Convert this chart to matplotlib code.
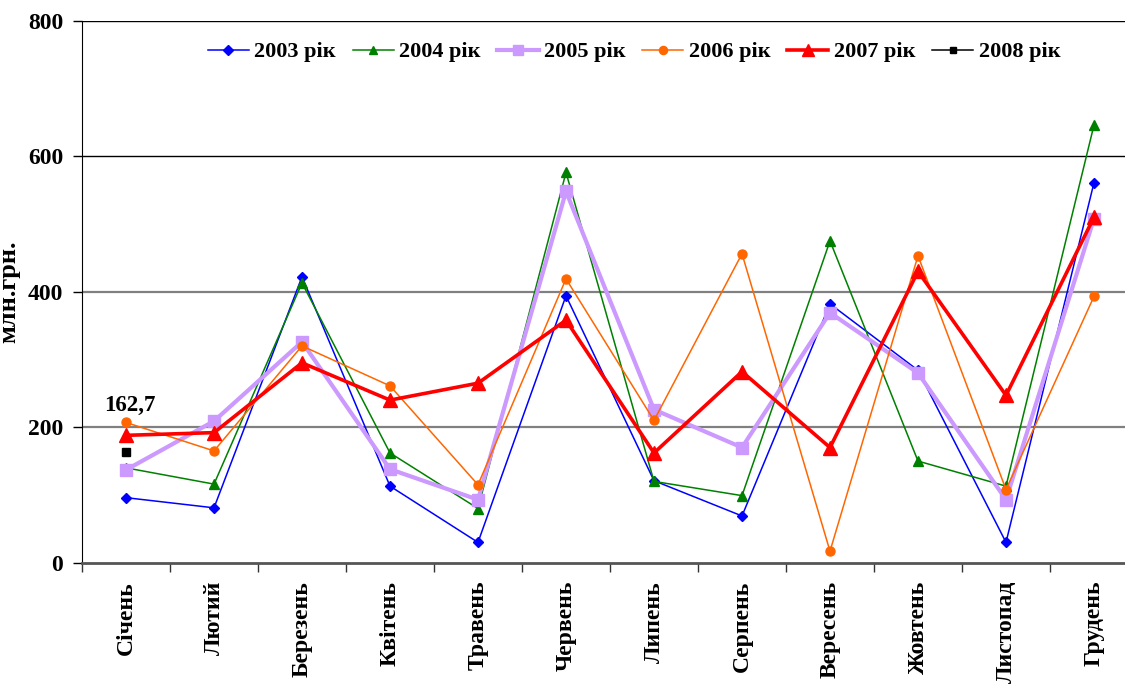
import numpy as np
import matplotlib.pyplot as plt

# monthly receipts, mln UAH
months = ["Січень", "Лютий", "Березень", "Квітень", "Травень", "Червень",
          "Липень", "Серпень", "Вересень", "Жовтень", "Листопад", "Грудень"]

y2003 = [96, 81, 422, 113, 30, 394, 121, 69, 382, 284, 30, 561]
y2004 = [140, 116, 413, 162, 80, 576, 120, 99, 475, 150, 113, 646]
y2005 = [137, 209, 326, 138, 93, 548, 226, 170, 369, 280, 93, 508]
y2006 = [207, 165, 320, 261, 115, 419, 210, 456, 17, 453, 108, 393]
y2007 = [188, 192, 295, 240, 265, 358, 162, 282, 170, 430, 247, 510]
y2008 = [162.7] + [np.nan] * 11

plt.rcParams["font.family"] = ["Liberation Serif", "DejaVu Serif"]
plt.rcParams["font.weight"] = "bold"

fig = plt.figure(figsize=(11.25, 6.86), dpi=100)
ax = fig.add_axes([82 / 1125, 123.3 / 686, 1056 / 1125, 542 / 686])

x = np.arange(len(months))
ax.plot(x, y2003, color="#0000FF", lw=1.1, marker="D", ms=5.5, label="2003 рік")
ax.plot(x, y2004, color="#008000", lw=1.1, marker="^", ms=7, label="2004 рік")
ax.plot(x, y2005, color="#CC99FF", lw=3, marker="s", ms=8, label="2005 рік")
ax.plot(x, y2006, color="#FF6600", lw=1.1, marker="o", ms=6.5, label="2006 рік")
ax.plot(x, y2007, color="#FF0000", lw=2.6, marker="^", ms=10, label="2007 рік")
ax.plot(x, y2008, color="black", lw=1.1, marker="s", ms=5.5, label="2008 рік")

ax.annotate(f"{y2008[0]:.1f}".replace(".", ","), (0, y2008[0]),
            xytext=(3, 34), textcoords="offset points",
            ha="center", va="center", fontsize=16.5, fontweight="bold")

ax.set_xlim(-0.5, len(months) - 0.5)
ax.set_ylim(0, 800)
ax.set_yticks([0, 200, 400, 600, 800])
ax.tick_params(axis="y", direction="out", length=6.5, width=1, pad=7, labelsize=17)

ax.set_xticks(x)
ax.set_xticklabels(months, rotation=90, fontsize=17, fontweight="bold", va="top")
ax.tick_params(axis="x", which="major", length=0, pad=13)
ax.set_xticks(np.arange(len(months) + 1) - 0.5, minor=True)
ax.tick_params(axis="x", which="minor", direction="out", length=6.5, width=1, color="#333333")

# horizontal grid: lower lines grey, upper ones black
for val, col, lw in [(200, "#808080", 1.6), (400, "#808080", 1.6), (600, "black", 1.0), (800, "black", 1.0)]:
    ax.axhline(val, color=col, lw=lw, zorder=0)

ax.spines["right"].set_visible(False)
ax.spines["top"].set_visible(False)
ax.spines["left"].set_color("black")
ax.spines["bottom"].set_color("#555555")
ax.spines["bottom"].set_linewidth(2)

ax.set_ylabel("млн.грн.", fontsize=19, fontweight="bold")
ax.yaxis.set_label_coords(-0.058, 0.5)

fig.legend(loc="center", bbox_to_anchor=(0.5636, 0.924), ncol=6, frameon=False,
           prop={"size": 16, "weight": "bold"}, handlelength=1.85,
           handletextpad=0.25, columnspacing=0.75, markerscale=0.9)

fig.savefig("out.png", dpi=100)
